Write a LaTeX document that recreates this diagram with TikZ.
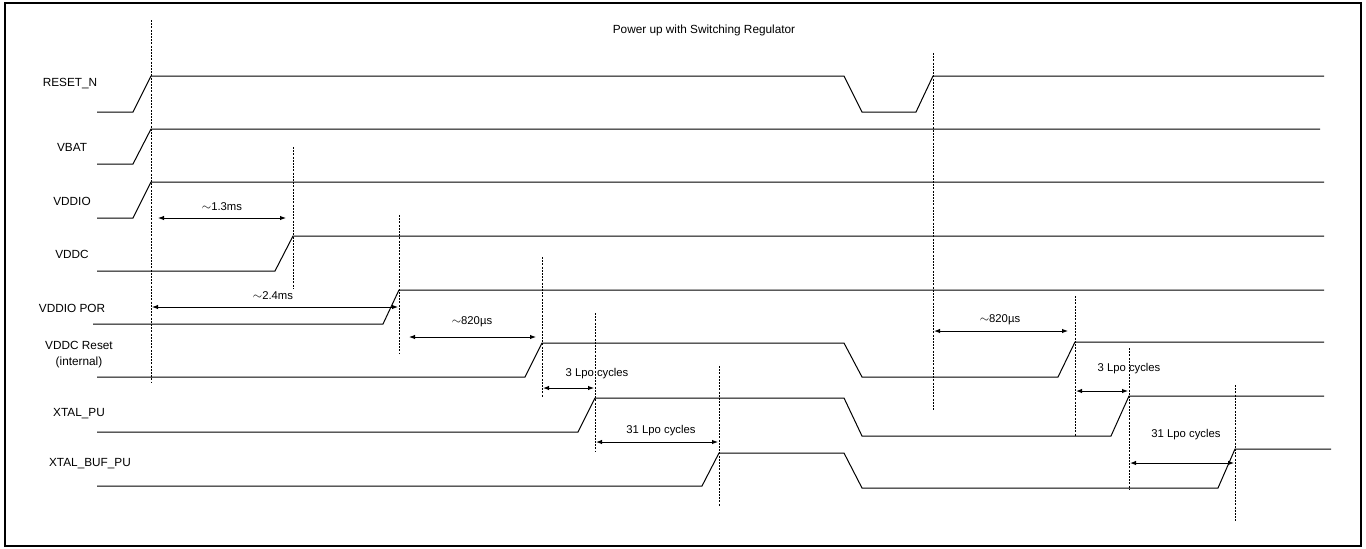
\documentclass[tikz,border=0pt]{standalone}
\usepackage{fontspec}
\setmainfont{Liberation Sans}
\usetikzlibrary{arrows.meta}
\begin{document}
\begin{tikzpicture}[x=1pt,y=-1pt,
  sig/.style={line width=1pt, line join=miter},
  guide/.style={line width=0.7pt, dash pattern=on 2pt off 1.2pt},
  dim/.style={line width=1pt, {Latex[length=6pt,width=4.5pt]}-{Latex[length=6pt,width=4.5pt]}},
  lbl/.style={font=\fontsize{11.8}{14}\selectfont, inner sep=0pt},
  dlbl/.style={font=\fontsize{11.3}{13}\selectfont, inner sep=0pt}]
\useasboundingbox (0,0) rectangle (1366,549);
\draw[line width=2pt] (5,3) rectangle (1361,546);

% title
\node[lbl] (title) at (704,30) {Power up with Switching Regulator};

% signal names
\node[lbl] (nreset) at (70,84) {RESET\_N};
\node[lbl] (nvbat) at (72,147) {VBAT};
\node[lbl] (nvddio) at (72,201) {VDDIO};
\node[lbl] (nvddc) at (72,254) {VDDC};
\node[lbl] (npor) at (72,308) {VDDIO POR};
\node[lbl, align=center, font=\fontsize{11.8}{16}\selectfont] (nvrst) at (79,355) {VDDC Reset\\(internal)};
\node[lbl] (nxpu) at (79,414) {XTAL\_PU};
\node[lbl] (nxbuf) at (90,464) {XTAL\_BUF\_PU};

% waveforms
\draw[sig] (97,112)--(133,112)--(151,76)--(844,76)--(862,112)--(916,112)--(933,76)--(1324,76);
\draw[sig] (97,164)--(133,164)--(151,129)--(1320,129);
\draw[sig] (97,218)--(133,218)--(151,182)--(1324,182);
\draw[sig] (97,271)--(275,271)--(293,236)--(1324,236);
\draw[sig] (93,324)--(383,324)--(399,290)--(1324,290);
\draw[sig] (97,377)--(525,377)--(542,343)--(844,343)--(862,377)--(1058,377)--(1075,342)--(1324,342);
\draw[sig] (97,432)--(578,432)--(595,398)--(844,398)--(862,436)--(1111,436)--(1129,396)--(1324,396);
\draw[sig] (97,486)--(702,486)--(719,453)--(844,453)--(862,488)--(1218,488)--(1235,449)--(1331,449);

% guide lines
\draw[guide] (151,20)--(151,382);
\draw[guide] (293,147)--(293,288);
\draw[guide] (399,215)--(399,354);
\draw[guide] (542,257)--(542,397);
\draw[guide] (595,313)--(595,452);
\draw[guide] (719,366)--(719,506);
\draw[guide] (933,53)--(933,410);
\draw[guide] (1075,296)--(1075,436);
\draw[guide] (1129,348)--(1129,490);
\draw[guide] (1235,385)--(1235,522);

% dimension end points
\coordinate (a1) at (158,218); \coordinate (b1) at (286,218);
\coordinate (a2) at (152,307); \coordinate (b2) at (398,307);
\coordinate (a3) at (409,337); \coordinate (b3) at (536,337);
\coordinate (a4) at (543,388); \coordinate (b4) at (594,388);
\coordinate (a5) at (596,442); \coordinate (b5) at (718,442);
\coordinate (a6) at (934,331); \coordinate (b6) at (1068,331);
\coordinate (a7) at (1076,391); \coordinate (b7) at (1128,391);
\coordinate (a8) at (1130,463); \coordinate (b8) at (1234,463);

\draw[dim] (a1)--(b1);
\draw[dim] (a2)--(b2);
\draw[dim] (a3)--(b3);
\draw[dim] (a4)--(b4);
\draw[dim] (a5)--(b5);
\draw[dim] (a6)--(b6);
\draw[dim] (a7)--(b7);
\draw[dim] (a8)--(b8);

\node[dlbl] (t1) at (222,207) {\raisebox{0.5pt}{\large$\sim$}1.3ms};
\node[dlbl] (t2) at (273,296) {\raisebox{0.5pt}{\large$\sim$}2.4ms};
\node[dlbl] (t3) at (472,322) {\raisebox{0.5pt}{\large$\sim$}820µs};
\node[dlbl] (t4) at (597,374) {3 Lpo cycles};
\node[dlbl] (t5) at (661,431) {31 Lpo cycles};
\node[dlbl] (t6) at (1000,320) {\raisebox{0.5pt}{\large$\sim$}820µs};
\node[dlbl] (t7) at (1129,369) {3 Lpo cycles};
\node[dlbl] (t8) at (1186,435) {31 Lpo cycles};
\end{tikzpicture}
\end{document}
